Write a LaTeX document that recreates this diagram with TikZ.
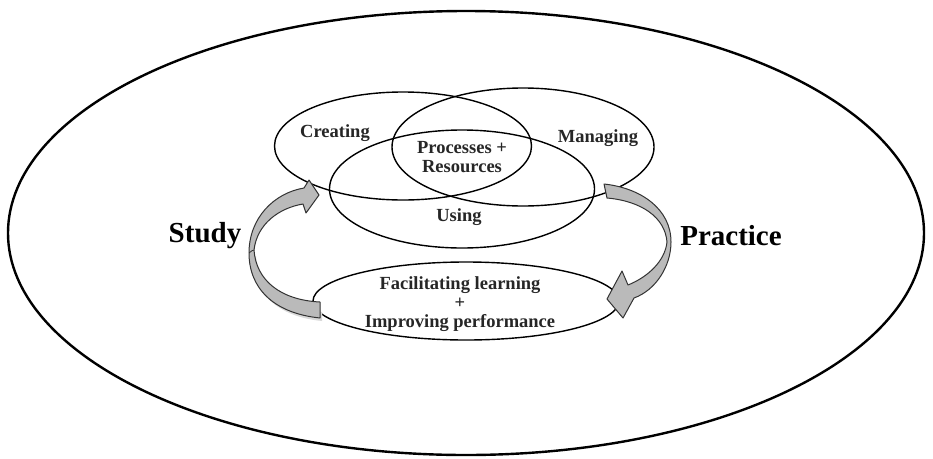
\documentclass[tikz,border=0pt]{standalone}
\usepackage{fontspec}
\setmainfont{Liberation Serif}
\usetikzlibrary{shapes.geometric}
\tikzset{
  oval/.style={ellipse, draw=black, line width=1.4pt, inner sep=0pt, outer sep=0pt},
  lbl/.style={font=\fontsize{18.5}{19}\selectfont\bfseries, align=center, inner sep=0pt, text=black!85},
  big/.style={font=\fontsize{29}{30}\selectfont\bfseries, inner sep=0pt},
  blockarrow/.style={fill=black!27, draw=black!80, line width=1pt, line join=round},
}
\begin{document}
\begin{tikzpicture}[x=1pt,y=-1pt]
\useasboundingbox (0,0) rectangle (933,458);
\fill[white] (0,0) rectangle (933,458);
% outer ellipse
\node[oval, line width=2.4pt, minimum width=916pt, minimum height=444pt] (outer) at (466,233) {};
% Venn ellipses
\node[oval, minimum width=257pt, minimum height=108pt] (creating) at (403,146) {};
\node[oval, minimum width=262pt, minimum height=118pt] (managing) at (523,147) {};
\node[oval, minimum width=265pt, minimum height=118pt] (using) at (462,189) {};
\node[oval, minimum width=306pt, minimum height=78pt] (goal) at (466,301) {};
% labels
\node[lbl] (tcreate) at (335,133) {Creating};
\node[lbl] (tmanage) at (598,138) {Managing};
\node[lbl] (tproc) at (462,157) {Processes +\\Resources};
\node[lbl] (tuse) at (459,217) {Using};
\node[lbl] (tgoal) at (460,304) {Facilitating learning\\+\\Improving performance};
\node[big] (study) at (205,236) {Study};
\node[big] (practice) at (731,236) {Practice};
% left curved arrow (Study)
\coordinate (lt2) at (320,318);
\coordinate (lt1) at (320,302);
\coordinate (ltip) at (319,195);
\fill[black!15] (322,321) .. controls (272,316) and (252,288) .. (252,256) -- (256,256) .. controls (258,288) and (280,310) .. (322,312) -- cycle;
\path[blockarrow] (lt2) .. controls (272,313) and (249,287) .. (249,253)
  .. controls (249,218) and (274,193) .. (304,188)
  -- (309,180) -- (ltip) -- (306,213) -- (303,204)
  .. controls (279,208) and (257,224) .. (254,250)
  .. controls (256,280) and (280,300) .. (lt1) -- cycle;
\draw[black!80, line width=0.8pt] (249,253) .. controls (251,251) and (253,250) .. (254,250);
% right curved arrow (Practice)
\coordinate (rt1) at (604,184);
\coordinate (rt2) at (607,198);
\coordinate (rtip) at (607,299);
\path[blockarrow] (rt1) .. controls (641,188) and (671,209) .. (671,242)
  .. controls (671,266) and (656,290) .. (634,298)
  -- (623,318) -- (rtip) -- (622,271) -- (628,285)
  .. controls (648,277) and (665,261) .. (667,242)
  .. controls (665,217) and (641,201) .. (rt2) -- cycle;
\end{tikzpicture}
\end{document}
